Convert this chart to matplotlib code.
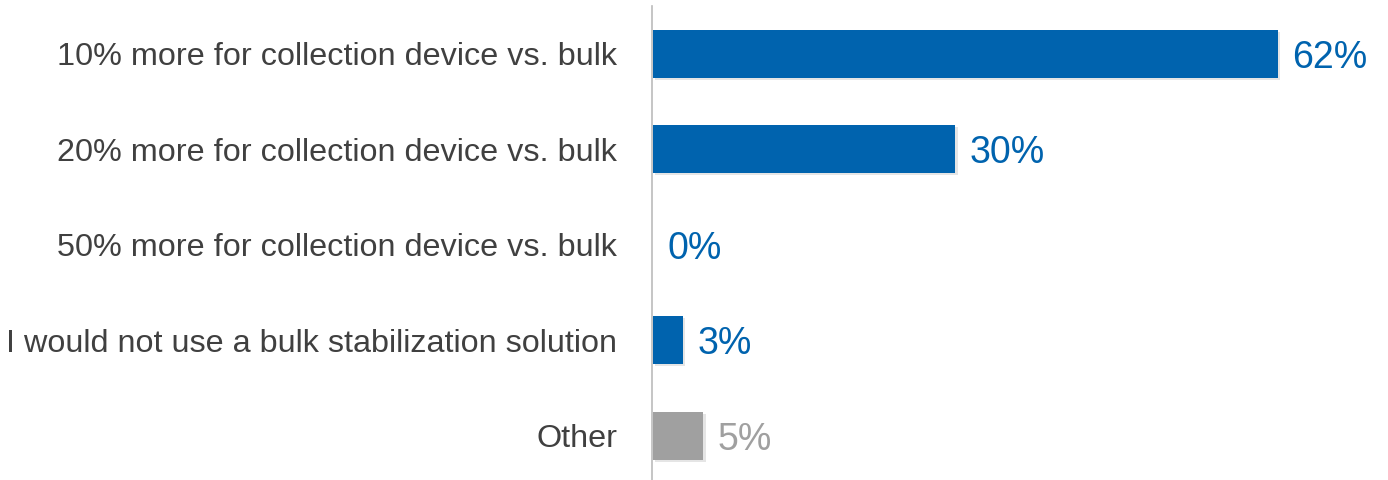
import matplotlib.pyplot as plt
import matplotlib.patheffects as pe

plt.rcParams['font.family'] = ['Liberation Sans', 'DejaVu Sans']

categories = [
    '10% more for collection device vs. bulk',
    '20% more for collection device vs. bulk',
    '50% more for collection device vs. bulk',
    'I would not use a bulk stabilization solution',
    'Other',
]
values = [62, 30, 0, 3, 5]
labels = ['62%', '30%', '0%', '3%', '5%']
colors = ['#0063AE', '#0063AE', '#0063AE', '#0063AE', '#A0A0A0']

fig = plt.figure(figsize=(13.88, 4.8), dpi=100)
ax = fig.add_axes([652 / 1388, 0.0, 1 - 652 / 1388, 474 / 480])

shadow = [pe.SimplePatchShadow(offset=(1.5, -1.5), shadow_rgbFace='#999999', alpha=0.25), pe.Normal()]
bars = ax.barh(range(len(values)), values, height=0.5, color=colors, left=0.1)
for b in bars:
    b.set_path_effects(shadow)

for i, (v, lab, c) in enumerate(zip(values, labels, colors)):
    ax.text(v + 1.5, i, lab, va='center_baseline', ha='left', fontsize=27, color=c)

ax.set_xlim(0, 73)
ax.set_ylim(4.463, -0.5)
ax.set_yticks(range(len(categories)))
ax.set_yticklabels(categories, fontsize=23.3, color='#404040', va='center_baseline')
ax.tick_params(axis='y', length=0, pad=25)
ax.set_xticks([])
for s in ['top', 'right', 'bottom']:
    ax.spines[s].set_visible(False)
ax.spines['left'].set_color('#BBBBBB')
ax.spines['left'].set_linewidth(1.2)

plt.savefig('out.png', dpi=100)
plt.close()
